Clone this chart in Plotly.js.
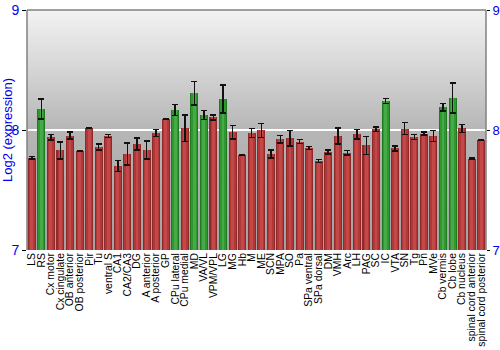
<!DOCTYPE html>
<html><head><meta charset="utf-8">
<script src="https://cdn.plot.ly/plotly-3.0.1.min.js"></script>
<style>html,body{margin:0;padding:0;background:#fff}#c{width:500px;height:350px}</style>
</head><body><div id="c"></div>
<script>
var categories = ["LS","RS","Cx motor","Cx cingulate","OB anterior","OB posterior","Pir","Tu","ventral S","CA1","CA2/CA3","DG","A anterior","A posterior","GP","CPu lateral","CPu medial","MD","VA/VL","VPM/VPL","LG","MG","Hb","M","ME","SCN","MPA","SO","Pa","SPa ventral","SPa dorsal","DM","VMH","Arc","LH","PAG","SC","IC","VTA","SN","Tg","Pn","MVe","Cb vermis","Cb lobe","Cb nucleus","spinal cord anterior","spinal cord posterior"];
var values = [7.77,8.175,7.94,7.83,7.953,7.825,8.017,7.86,7.95,7.70,7.80,7.883,7.833,7.975,8.09,8.167,8.014,8.306,8.125,8.105,8.258,7.98,7.79,7.975,7.997,7.80,7.922,7.93,7.903,7.85,7.742,7.817,7.95,7.81,7.964,7.872,8.006,8.242,7.847,8.011,7.942,7.97,7.95,8.19,8.267,8.014,7.76,7.917];
var errors = [0.01,0.083,0.022,0.07,0.03,0.004,0.005,0.025,0.012,0.045,0.09,0.05,0.075,0.03,0.003,0.047,0.11,0.097,0.036,0.02,0.118,0.056,0.004,0.036,0.058,0.035,0.032,0.064,0.017,0.014,0.012,0.015,0.068,0.02,0.04,0.075,0.02,0.02,0.02,0.05,0.02,0.012,0.044,0.032,0.124,0.033,0.007,0.003];
var highlighted = ["RS","CPu lateral","MD","VA/VL","LG","IC","Cb vermis","Cb lobe"];
var yTicks = [7, 8, 9];

var isG = categories.map(function(c){return highlighted.indexOf(c) >= 0;});
function cols(g, r){ return isG.map(function(b){return b ? g : r;}); }

var bg = 'data:image/svg+xml;utf8,' + encodeURIComponent(
 '<svg xmlns="http://www.w3.org/2000/svg" width="100" height="100" preserveAspectRatio="none">' +
 '<defs><linearGradient id="g" x1="0" y1="0" x2="0" y2="1">' +
 '<stop offset="0" stop-color="#f3f3f3"/><stop offset="0.5" stop-color="#b6b6b6"/><stop offset="1" stop-color="#a2a2a2"/>' +
 '</linearGradient></defs><rect width="100" height="100" fill="url(#g)"/></svg>');

var base = {x: categories, y: values, type: 'bar', hoverinfo: 'skip', showlegend: false};
var t1 = Object.assign({}, base, {width: 0.84, marker: {color: cols('#1f7a22', '#8e2a2a'), line: {width: 0}}});
var t2 = Object.assign({}, base, {width: 0.62, marker: {color: cols('#2f9630', '#b03838'), line: {width: 0}}});
var t3 = Object.assign({}, base, {width: 0.3, marker: {color: cols('#46aa46', '#c44848'), line: {width: 0}},
  error_y: {type: 'data', array: errors, visible: true, color: '#111', thickness: 1.5, width: 3}});
var t4 = {x: categories, y: values, type: 'scatter', mode: 'none', yaxis: 'y2', hoverinfo: 'skip', showlegend: false};

var layout = {
  width: 500, height: 350,
  margin: {l: 27, r: 14, t: 10, b: 100, pad: 0},
  paper_bgcolor: '#ffffff', plot_bgcolor: 'rgba(0,0,0,0)',
  barmode: 'overlay', bargap: 0,
  font: {family: 'Liberation Sans, Arial, sans-serif'},
  images: [{source: bg, xref: 'paper', yref: 'paper', x: 0, y: 1, sizex: 1, sizey: 1, sizing: 'stretch', layer: 'below', xanchor: 'left', yanchor: 'top'}],
  xaxis: {type: 'category', tickmode: 'array', tickvals: categories, ticktext: categories, tickangle: -90,
    tickfont: {size: 10.4, color: '#000'}, ticks: '', showgrid: false, showline: false, zeroline: false, automargin: false},
  yaxis: {range: [7, 9], tickvals: yTicks, ticktext: yTicks.map(String), tickfont: {size: 14, color: '#0000ee'},
    ticks: 'outside', ticklen: 4, tickcolor: '#000', showgrid: true, gridcolor: '#ffffff', gridwidth: 1.5,
    showline: false, zeroline: false, automargin: false,
    title: {text: 'Log2 (expression)', font: {size: 13, color: '#0000ee'}, standoff: 4}},
  yaxis2: {range: [7, 9], overlaying: 'y', side: 'right', tickvals: yTicks, ticktext: yTicks.map(String),
    tickfont: {size: 13, color: '#0000ee'}, ticks: 'outside', ticklen: 3, tickcolor: '#000', showgrid: false, zeroline: false, showline: false, automargin: false},
  shapes: [
    {type: 'line', xref: 'paper', yref: 'paper', x0: 0, x1: 0, y0: 0, y1: 1, line: {color: '#808080', width: 1.5}},
    {type: 'line', xref: 'paper', yref: 'paper', x0: 1, x1: 1, y0: 0, y1: 1, line: {color: '#808080', width: 1.5}},
    {type: 'line', xref: 'paper', yref: 'paper', x0: 0, x1: 1, y0: 1, y1: 1, line: {color: '#808080', width: 1.5}}
  ]
};
Plotly.newPlot('c', [t1, t2, t3, t4], layout, {staticPlot: true, displayModeBar: false});
</script></body></html>
